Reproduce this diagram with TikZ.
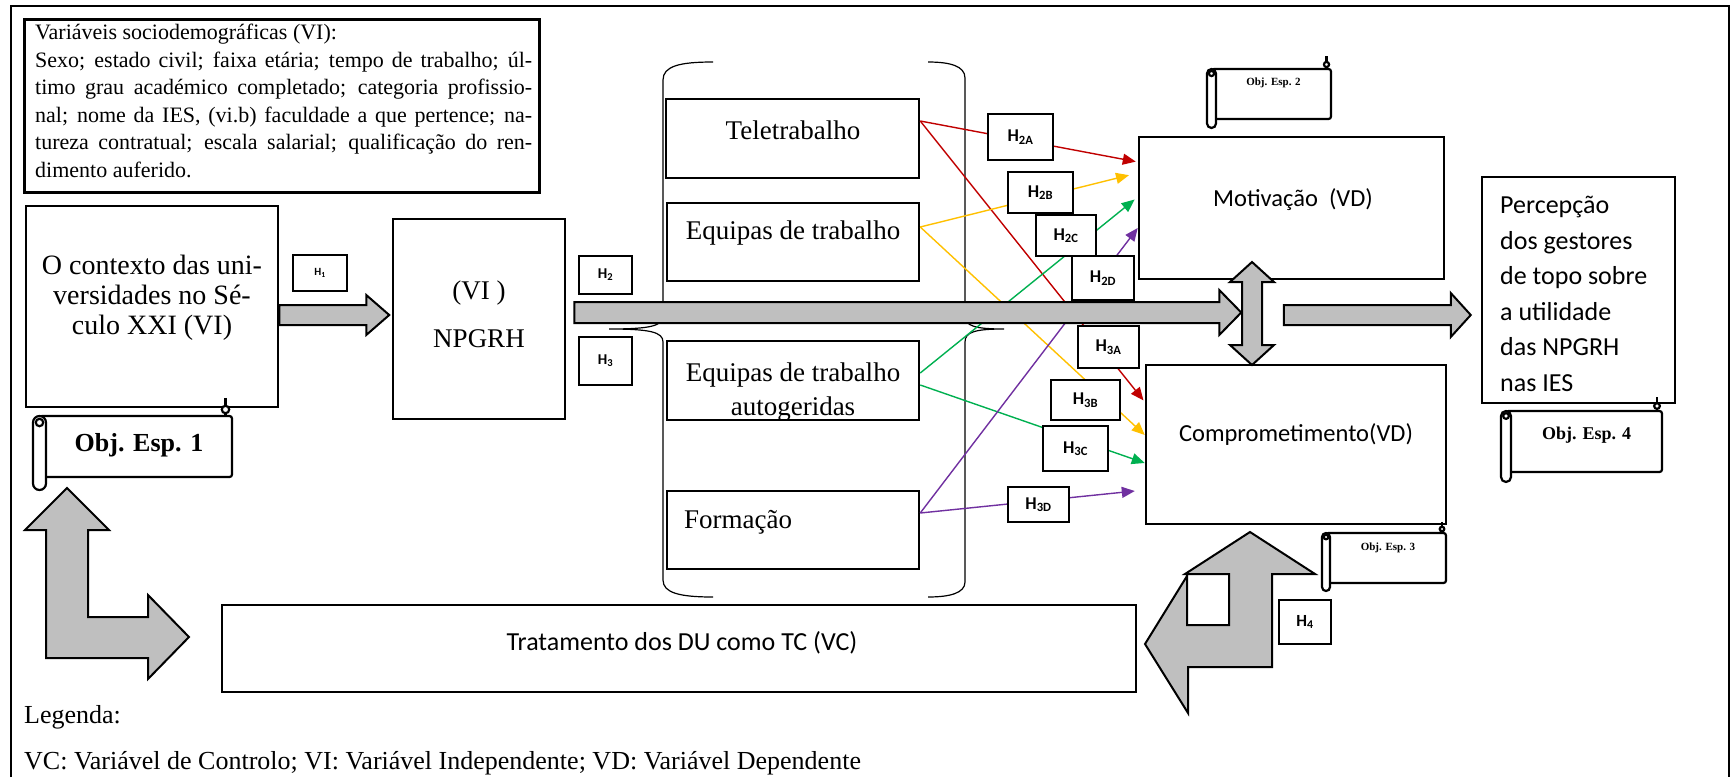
\documentclass[tikz,border=0pt]{standalone}
\usepackage{fontspec}
\setmainfont{Liberation Serif}
\newfontfamily\calibri{Carlito}
\usetikzlibrary{arrows.meta,calc}

\definecolor{arrowgray}{HTML}{BFBFBF}
\definecolor{hred}{HTML}{C00000}
\definecolor{hyellow}{HTML}{FFC000}
\definecolor{hgreen}{HTML}{00B050}
\definecolor{hpurple}{HTML}{7030A0}

\newcommand{\boxfont}{\fontsize{27}{34}\selectfont}

% seta larga para a direita: ponto central de partida, comprimento, meia largura, meia cabeca, comprimento da cabeca
\newcommand{\rarrow}[5]{%
  \draw[blockarrow] #1 ++(0,-#3) -- ++(#2-#5,0) -- ++(0,#3-#4) -- ++(#5,#4)
    -- ++(-#5,#4) -- ++(0,#3-#4) -- ++(#5-#2,0) -- cycle;}

% pergaminho: nome, x rolo, topo, direita, base, largura do rolo, y do texto, fonte, texto
\newcommand{\objscroll}[9]{%
  \filldraw[scrollline,fill=white,rounded corners=2.5pt] (#2+#6/2,#3) -- (#4,#3) -- (#4,#5) -- (#2+#6/2,#5) -- cycle;
  \filldraw[scrollline,fill=white,rounded corners=#6/2] (#2,#3) rectangle (#2+#6,#5+#6);
  \draw[scrollline,fill=white] (#2+#6/2,#3+#6/2) circle[radius=#6/3.5];
  \draw[scrollline] (#4-#6/2,#3-1.4*#6) -- (#4-#6/2,#3);
  \draw[scrollline,fill=white] (#4-#6/2,#3-#6/2) circle[radius=#6/3.5];
  \node[font=#8] (#1) at ({(#2+#6+#4)/2},#7) {#9};}

\begin{document}
\begin{tikzpicture}[x=1pt,y=-1pt,>={Triangle[length=13pt,width=11pt]}]

  \tikzstyle{box}=[draw,line width=2.5pt,fill=white,inner sep=0pt]
  \tikzstyle{hbox}=[box,line width=2.2pt,font=\calibri\bfseries\fontsize{18}{18}\selectfont]
  \tikzstyle{blockarrow}=[draw,line width=2pt,fill=arrowgray,line join=miter]
  \tikzstyle{hypo}=[->,line width=1.4pt,shorten >=2pt]
  \tikzstyle{brace}=[line width=1.2pt]
  \tikzstyle{scrollline}=[line width=2.2pt]

  \useasboundingbox (0,0) rectangle (1733,777);

  % moldura
  \draw[line width=1.5pt] (11,777) -- (11,6) -- (1729,6) -- (1729,777);

  % variaveis sociodemograficas
  \node[box,line width=3pt,minimum width=515pt,minimum height=173pt] (socio) at (281.5,105.5) {};
  \node[anchor=north west,inner sep=0pt,text width=497pt,align=justify,
        font=\fontsize{22}{27.5}\selectfont] (socio-txt) at (35,24)
    {Variáveis sociodemográficas (VI):\\
     Sexo; estado civil; faixa etária; tempo de trabalho; úl-\linebreak
     timo grau académico completado; categoria profissio-\linebreak
     nal; nome da IES, (vi.b) faculdade a que pertence; na-\linebreak
     tureza contratual; escala salarial; qualificação do ren-\linebreak
     dimento auferido.};

  % contexto e NPGRH
  \node[box,minimum width=252pt,minimum height=201pt] (ctx) at (152,306.5) {};
  \node[align=center,font=\fontsize{28}{30}\selectfont] (ctx-txt) at (152,298)
    {O contexto das uni-\\versidades no Sé-\\culo XXI (VI)};
  \objscroll{obj1}{33}{416}{232}{477}{13}{445}{\bfseries\fontsize{26}{26}\selectfont}{Obj. Esp. 1}

  \node[hbox,minimum width=54pt,minimum height=36pt,font=\calibri\bfseries\fontsize{11}{11}\selectfont] (h1) at (320,273) {H\textsubscript{1}};
  \rarrow{($(ctx.east)+(0,8.5)$)}{110}{10}{20}{23}

  \node[box,minimum width=172pt,minimum height=200pt] (npgrh) at (479,319) {};
  \node[align=center,font=\fontsize{27}{48}\selectfont] (npgrh-txt) at (479,314) {(VI )\\NPGRH};
  \node[hbox,minimum width=53pt,minimum height=38pt,font=\calibri\bfseries\fontsize{15}{15}\selectfont] (h2) at (605.5,275) {H\textsubscript{2}};
  \node[hbox,minimum width=53pt,minimum height=48pt,font=\calibri\bfseries\fontsize{15}{15}\selectfont] (h3) at (605.5,361) {H\textsubscript{3}};

  % chavetas
  \draw[brace] (713,62) .. controls (680,62) and (663,66) .. (663,80) -- (663,316)
    .. controls (663,326) and (650,329) .. (609,329)
    .. controls (650,329) and (663,332) .. (663,342) -- (663,580)
    .. controls (663,593) and (680,597) .. (713,597);
  \draw[brace] (928,62) .. controls (950,62) and (965,66) .. (965,78) -- (965,316)
    .. controls (965,326) and (975,329) .. (1004,329)
    .. controls (975,329) and (965,332) .. (965,342) -- (965,582)
    .. controls (965,593) and (950,597) .. (928,597);

  % praticas
  \node[box,minimum width=253pt,minimum height=79pt] (tele) at (792.5,138.5) {};
  \node[font=\boxfont] (tele-txt) at (793,130) {Teletrabalho};
  \node[box,minimum width=252pt,minimum height=78pt] (equipas) at (793,242) {};
  \node[font=\boxfont] (equipas-txt) at (793,233) {Equipas de trabalho};
  \begin{scope}
    \clip (667,341) rectangle (919,419);
    \node[align=center,font=\boxfont] (autog-txt) at (793,392) {Equipas de trabalho\\autogeridas};
  \end{scope}
  \node[box,fill=none,minimum width=252pt,minimum height=79pt] (autog) at (793,380.5) {};
  \node[box,minimum width=252pt,minimum height=78pt] (form) at (793,530) {};
  \node[anchor=west,inner sep=0pt,font=\boxfont] (form-txt) at (684,522) {Formação};

  % variaveis dependentes
  \node[box,minimum width=305pt,minimum height=142pt] (mot) at (1291.5,208) {};
  \node[box,minimum width=300pt,minimum height=159pt] (comp) at (1296,444.5) {};

  % hipoteses
  \path[hypo]
    ([yshift=17.5]tele.east)    edge[hred]                   ([yshift=46]mot.west)
    ([yshift=17.5]tele.east)    edge[hred]                   ([yshift=42.5]comp.west)
    ([yshift=15]equipas.east)   edge[hyellow,shorten >=9pt]  ([yshift=35]mot.west)
    ([yshift=15]equipas.east)   edge[hyellow,shorten >=0pt]  ([yshift=9.5]comp.west)
    ([yshift=7.5]autog.east)    edge[hgreen,shorten >=4pt]   ([yshift=11]mot.west)
    ([yshift=-4.5]autog.east)   edge[hgreen,shorten >=0pt]   ([yshift=-18.5]comp.west)
    ([yshift=17]form.east)      edge[hpurple,shorten >=0pt]  ([yshift=-20]mot.west)
    ([yshift=17]form.east)      edge[hpurple,shorten >=10pt] ([yshift=-45.5]comp.west);

  \node[hbox,minimum width=65pt,minimum height=46pt] (h2a) at (1020.5,137)   {H\textsubscript{2A}};
  \node[hbox,minimum width=65pt,minimum height=41pt] (h2b) at (1040.5,192.5) {H\textsubscript{2B}};
  \node[hbox,minimum width=60pt,minimum height=41pt] (h2c) at (1066,235.5)   {H\textsubscript{2C}};
  \node[hbox,minimum width=62pt,minimum height=44pt] (h2d) at (1103,278)     {H\textsubscript{2D}};
  \node[hbox,minimum width=61pt,minimum height=42pt] (h3a) at (1108.5,347)   {H\textsubscript{3A}};
  \node[hbox,minimum width=69pt,minimum height=40pt] (h3b) at (1085.5,400)   {H\textsubscript{3B}};
  \node[hbox,minimum width=65pt,minimum height=45pt] (h3c) at (1075.5,448.5) {H\textsubscript{3C}};
  \node[hbox,minimum width=61pt,minimum height=35pt] (h3d) at (1038.5,504.5) {H\textsubscript{3D}};

  \rarrow{($(npgrh.east)+(8,-6.5)$)}{667}{10.5}{22.5}{22}

  \node[font=\calibri\fontsize{24.5}{24.5}\selectfont] (mot-txt) at (1293,200) {Motivação\ \ (VD)};
  \node[font=\calibri\fontsize{24.5}{24.5}\selectfont] (comp-txt) at (1296,435) {Comprometimento(VD)};

  % seta dupla
  \draw[blockarrow] (1252,262) -- ++(22,20) -- ++(-12,0) -- ++(0,63) -- ++(12,0) -- ++(-22,20)
    -- ++(-22,-20) -- ++(12,0) -- ++(0,-63) -- ++(-12,0) -- cycle;

  \objscroll{obj2}{1207}{69}{1331}{119}{9}{83}{\bfseries\fontsize{11}{11}\selectfont}{Obj. Esp. 2}
  \objscroll{obj3}{1322}{533}{1446}{583}{8}{548}{\bfseries\fontsize{11}{11}\selectfont}{Obj. Esp. 3}

  % percepcao
  \node[box,minimum width=193pt,minimum height=226pt] (perc) at (1578.5,290) {};
  \node[anchor=west,inner sep=0pt,align=left,font=\calibri\fontsize{26}{35.6}\selectfont] (perc-txt) at (1500,294)
    {Percepção\\dos gestores\\de topo sobre\\a utilidade\\das NPGRH\\nas IES};
  \rarrow{($(perc.west)+(-197,25)$)}{187}{10}{22}{20}
  \objscroll{obj4}{1501}{411}{1662}{472}{10}{435}{\bfseries\fontsize{18}{18}\selectfont}{Obj. Esp. 4}

  % variavel de controlo
  \draw[blockarrow] (67,488) -- (109,530) -- (88,530) -- (88,617) -- (148,617) -- (148,595)
    -- (189,637) -- (148,679) -- (148,658) -- (46,658) -- (46,530) -- (25,530) -- cycle;
  \node[box,minimum width=914pt,minimum height=87pt] (trat) at (679,648.5) {};
  \node[font=\calibri\fontsize{26}{26}\selectfont] (trat-txt) at (682,643) {Tratamento dos DU como TC (VC)};
  \draw[blockarrow] (1250,532) -- (1315,574) -- (1272,574) -- (1272,667) -- (1188,667) -- (1188,713)
    -- (1145,644) -- (1187,576) -- (1187,625) -- (1229,625) -- (1229,574) -- (1185,574) -- cycle;
  \node[hbox,minimum width=52pt,minimum height=44pt,font=\calibri\bfseries\fontsize{17}{17}\selectfont] (h4) at (1305,622) {H\textsubscript{4}};

  % legenda
  \node[anchor=west,inner sep=0pt,font=\fontsize{26}{26}\selectfont] (leg1) at (24,717) {Legenda:};
  \node[anchor=west,inner sep=0pt,font=\fontsize{26}{26}\selectfont] (leg2) at (24,763)
    {VC: Variável de Controlo; VI: Variável Independente; VD: Variável Dependente};

\end{tikzpicture}
\end{document}
